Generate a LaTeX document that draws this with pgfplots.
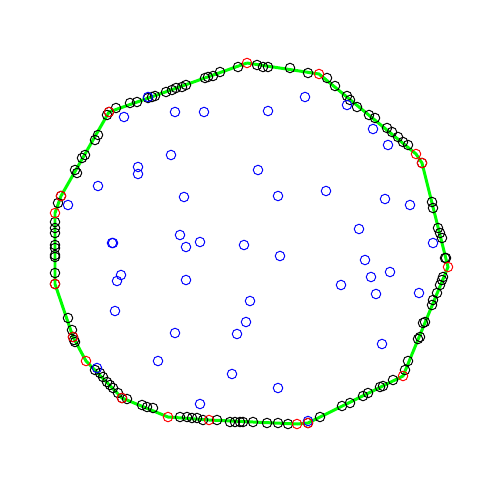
\documentclass[border=0pt]{standalone}
\usepackage{pgfplots}
\pgfplotsset{compat=1.18}

\begin{document}
\begin{tikzpicture}
\begin{axis}[
  scale only axis,
  width=10cm, height=10cm,
  xmin=0, xmax=500, ymin=0, ymax=500,
  y dir=reverse,   % pixel coordinates, origin top left
  hide axis,
  clip=false,
  every axis plot/.append style={mark size=2.7pt},
]
% points on the boundary
\addplot[only marks, mark=o, mark options={draw=black, line width=0.55pt}]
coordinates {
(116,108)(130,103)(137,102)(148,98)(152,97)(155,96)(166,92)(172,90)(176,88)
(182,87)(186,85)(205,78)(208,77)(213,76)(220,72)(238,67)(107,115)
(98,135)(95,140)(85,155)(82,158)(75,170)(77,173)(58,203)
(55,222)(55,228)(55,233)(55,245)(55,248)(55,255)(55,257)(55,273)
(68,318)(72,330)(74,340)(75,342)(95,370)(100,373)(103,377)(107,382)(110,385)
(113,388)(118,393)(127,399)(142,405)(147,407)(153,408)(180,417)(187,417)
(192,418)(197,418)(203,420)(217,420)(230,422)(235,422)(240,422)(243,422)
(253,422)(267,423)(278,423)(288,424)
(320,417)(342,406)(350,403)(363,396)(368,393)(380,387)(383,386)(393,380)
(405,370)(408,361)(418,339)(420,337)(423,323)(425,322)(432,305)(433,300)
(437,293)(440,285)(442,280)(443,277)(445,258)
(432,202)(433,208)(438,228)(440,233)(442,238)(446,258)
(257,65)(263,67)(268,67)(290,68)(308,73)(327,78)(335,86)(347,96)(350,100)
(357,107)(369,115)(375,118)(387,128)(392,132)(398,137)(403,142)(408,145)
(422,163)(61,196)(55,284)(73,337)(122,398)(308,423)(109,112)
};
% interior points
\addplot[only marks, mark=o, mark options={draw=blue, line width=0.55pt}]
coordinates {
(124,117)(175,112)(204,112)(268,111)(305,97)(347,105)(373,129)(388,145)(148,97)
(171,155)(138,167)(138,174)(98,186)(68,205)(184,197)(258,170)(278,196)(326,191)
(385,199)(410,205)
(180,235)(186,247)(200,242)(244,245)(113,243)(112,243)(280,256)(359,229)(433,243)
(365,260)(390,272)(371,277)(121,275)(117,281)(186,280)(341,285)(376,294)(419,293)
(250,301)(115,311)(246,322)(237,334)(175,333)(382,344)(158,361)(232,374)(278,388)
(200,404)(97,368)(308,421)
};
% hull
\addplot[color={rgb,255:red,0;green,255;blue,0}, line width=1.7pt, no marks]
coordinates {
(247,63)(319,74)(416,154)(422,163)(448,267)(403,376)(308,423)(297,424)(209,420)
(168,417)(122,398)(86,361)(73,337)(55,284)(55,213)(61,196)(109,112)(247,63)
};
% hull vertices
\addplot[only marks, mark=o, mark options={draw=red, line width=0.55pt}]
coordinates {
(247,63)(319,74)(416,154)(422,163)(448,267)(403,376)(308,423)(297,424)(209,420)
(168,417)(122,398)(86,361)(73,337)(55,284)(55,213)(61,196)(109,112)
};
\end{axis}
\path (current axis.south west) rectangle (current axis.north east);
\end{tikzpicture}
\end{document}
